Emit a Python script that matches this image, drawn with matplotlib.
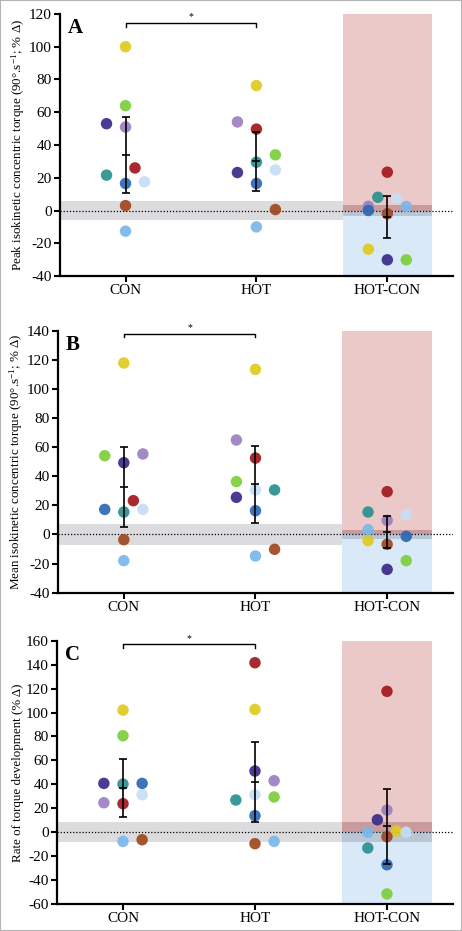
import matplotlib.pyplot as plt
from matplotlib.patches import Rectangle
import numpy as np

plt.rcParams['font.family'] = ['Liberation Serif', 'DejaVu Serif']
plt.rcParams['axes.unicode_minus'] = False
plt.rcParams['mathtext.fontset'] = 'custom'
plt.rcParams['mathtext.rm'] = 'Liberation Serif'
plt.rcParams['mathtext.it'] = 'Liberation Serif:italic'

groups = ["CON", "HOT", "HOT-CON"]

# one colour per participant (same order in every list below)
colors = ["#dfcb1f", "#7ccf3c", "#3b2a8a", "#9b7fc0", "#a0181c",
          "#2a9090", "#2c68b4", "#c6def6", "#a0481e", "#7ab8ea"]

# A - peak isokinetic concentric torque
peak_con = [100, 64, 53, 51, 26, 21.6, 16.5, 17.5, 3, -12.6]
peak_hot = [76.3, 34, 23.2, 54.1, 49.7, 29.5, 16.5, 24.8, 0.6, -10]
peak_diff = [-23.6, -30.1, -30.1, 2.6, 23.4, 8.1, 0, 7.3, -2, 2.5]
peak_mean = [34, 30, -4.1]
peak_err = [23.4, 18, 12.8]

# B - mean isokinetic concentric torque
mean_con = [117.8, 54.1, 49.3, 55.3, 23.2, 15.4, 17.2, 17.2, -3.6, -18]
mean_hot = [113.4, 36.3, 25.5, 64.9, 52.5, 30.6, 16.3, 30.6, -10.2, -14.8]
mean_diff = [-4.3, -18, -24, 9.7, 29.4, 15.4, -1.3, 13.6, -6.8, 3.3]
mean_mean = [32.8, 34.6, 1.6]
mean_err = [27.5, 26.5, 11.2]

# C - rate of torque development
rtd_con = [102, 80.6, 40.8, 24.6, 23.8, 40.2, 40.8, 31.3, -6.3, -7.7]
rtd_hot = [102.6, 29.4, 51.1, 43, 141.6, 26.9, 13.8, 31.3, -9.6, -7.7]
rtd_diff = [1, -51.6, 10.4, 18.5, 117.7, -13.2, -27.2, 0, -3.8, 0]
rtd_mean = [36.9, 42, 5]
rtd_err = [24.2, 33.5, 31.2]

# horizontal jitter slots of each dot (layout only)
jit_A = [[0, 0, -2, 0, 1, -2, 0, 2, 0, 0],
         [0, 2, -2, -2, 0, 0, 0, 2, 2, 0],
         [-2, 2, 0, -2, 0, -1, -2, 1, 0, 2]]
jit_B = [[0, -2, 0, 2, 1, 0, -2, 2, 0, 0],
         [0, -2, -2, -2, 0, 2, 0, 0, 2, 0],
         [-2, 2, 0, 0, 0, -2, 2, 2, 0, -2]]
jit_C = [[0, 0, -2, -2, 0, 0, 2, 2, 2, 0],
         [0, 2, 0, 2, 0, -2, 0, 0, 0, 2],
         [1, 0, -1, 0, 0, -2, 0, 2, 0, -2]]

panels = [
    dict(letter="A", rect=[0.130, 0.7035, 0.850, 0.2815], ylim=(-40, 120), step=20,
         data=[peak_con, peak_hot, peak_diff], m=peak_mean, e=peak_err, jit=jit_A,
         band=6, dband=3.5, sig=(112.3, 114.7),
         ylabel="Peak isokinetic concentric torque (90°.s$^{-1}$; % Δ)"),
    dict(letter="B", rect=[0.1255, 0.3634, 0.855, 0.2814], ylim=(-40, 140), step=20,
         data=[mean_con, mean_hot, mean_diff], m=mean_mean, e=mean_err, jit=jit_B,
         band=7.5, dband=3.2, sig=(135.4, 137.9),
         ylabel="Mean isokinetic concentric torque (90°.s$^{-1}$; % Δ)"),
    dict(letter="C", rect=[0.1234, 0.029, 0.857, 0.2828], ylim=(-60, 160), step=20,
         data=[rtd_con, rtd_hot, rtd_diff], m=rtd_mean, e=rtd_err, jit=jit_C,
         band=8.5, dband=8.5, sig=(154.1, 157.2),
         ylabel="Rate of torque development (% Δ)"),
]

fig = plt.figure(figsize=(4.62, 9.31), dpi=100)
slot = 0.0725
x0, x1 = 1.66, 2.34

for p in panels:
    ax = fig.add_axes(p["rect"])
    lo, hi = p["ylim"]
    ax.set_xlim(-0.5, 2.5)
    ax.set_ylim(lo, hi)

    # shaded regions
    ax.fill_between([-0.5, x0], -p["band"], p["band"], color="#dcdcdf", lw=0, zorder=0)
    ax.fill_between([x0, x1], 0, hi, color="#ecc9c9", lw=0, zorder=0)
    ax.fill_between([x0, x1], lo, 0, color="#d9e9f8", lw=0, zorder=0)
    ax.fill_between([x0, x1], 0, p["dband"], color="#c99b9d", lw=0, zorder=1)
    ax.fill_between([x0, x1], -p["dband"], 0, color="#b8c6d5", lw=0, zorder=1)
    ax.axhline(0, color="black", ls=(0, (1, 1.5)), lw=0.9, zorder=2)

    for i, vals in enumerate(p["data"]):
        xs = i + np.array(p["jit"][i]) * slot
        ax.scatter(xs, vals, s=68, c=colors, edgecolors="none", alpha=0.92, zorder=3)
    ax.errorbar(range(3), p["m"], yerr=p["e"], fmt="_", color="black", ms=5.5, mew=1.2,
                elinewidth=1.2, capsize=2.7, capthick=1.2, zorder=4)

    # significance bracket CON vs HOT
    y1, y2 = p["sig"]
    ax.plot([0, 0, 1, 1], [y1, y2, y2, y1], color="black", lw=1, zorder=4, clip_on=False)
    ax.text(0.5, y2 + (hi - lo) * 0.005, "*", ha="center", va="bottom", fontsize=7)

    ax.text(0.02, 0.985, p["letter"], transform=ax.transAxes, fontsize=15,
            fontweight="bold", va="top", ha="left")

    ax.set_xticks(range(3))
    ax.set_xticklabels(groups, fontsize=11)
    ax.set_yticks(np.arange(lo, hi + 1, p["step"]))
    ax.tick_params(axis="both", direction="out", length=4, width=1.5, labelsize=11, pad=2)
    for s in ["top", "right"]:
        ax.spines[s].set_visible(False)
    for s in ["left", "bottom"]:
        ax.spines[s].set_linewidth(1.6)
    ax.set_ylabel(p["ylabel"], fontsize=9.4, labelpad=1)

fig.patches.append(Rectangle((0, 0), 1, 1, transform=fig.transFigure, fill=False,
                             edgecolor="#b4b4b4", lw=1.5))
fig.savefig("out.png", dpi=100)
